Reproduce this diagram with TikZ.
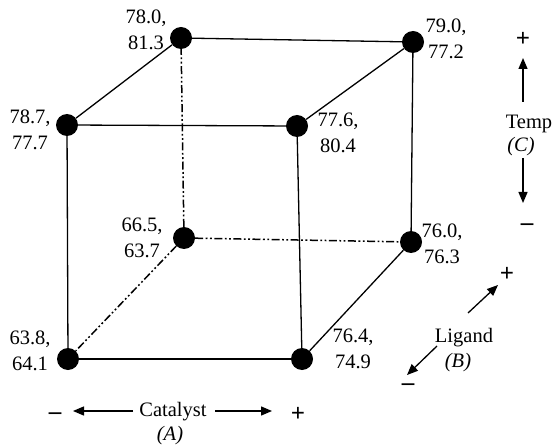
\documentclass[tikz,border=0pt]{standalone}
\usepackage{fontspec}
\setmainfont{Liberation Serif}
\usetikzlibrary{arrows.meta}
\newcommand{\twoval}[2]{\begin{tabular}[t]{@{}c@{}}#1\\#2\end{tabular}}
\begin{document}
\begin{tikzpicture}[x=1pt,y=-1pt,
  every node/.style={font=\rmfamily\fontsize{20.5}{26}\selectfont},
  vertex/.style={circle,fill=black,minimum size=22pt,inner sep=0pt},
  val/.style={anchor=base,inner sep=0pt},
  txt/.style={anchor=base,inner sep=0pt},
  sign/.style={anchor=base,inner sep=0pt,font=\rmfamily\fontsize{25}{26}\selectfont\bfseries},
  edge/.style={line width=1.3pt},
  hidden/.style={line width=1.5pt,dash pattern=on 8pt off 2.5pt on 1.8pt off 2.5pt on 1.8pt off 2.5pt},
  axarrow/.style={line width=1.3pt,-{Triangle[length=11pt,width=9pt]}}]
\useasboundingbox (0,0) rectangle (556,446);
% vertices
\node[vertex] (fbl) at (68,359) {};
\node[vertex] (fbr) at (302,359) {};
\node[vertex] (ftl) at (67,125) {};
\node[vertex] (ftr) at (297,126) {};
\node[vertex] (bbl) at (184,238) {};
\node[vertex] (bbr) at (411,242) {};
\node[vertex] (btl) at (181,38) {};
\node[vertex] (btr) at (413,42) {};
% solid edges
\draw[edge] (fbl) -- (fbr);
\draw[edge] (fbl) -- (ftl);
\draw[edge] (ftl) -- (ftr);
\draw[edge] (ftr) -- (fbr);
\draw[edge] (ftl) -- (btl);
\draw[edge] (btl) -- (btr);
\draw[edge] (btr) -- (ftr);
\draw[edge] (btr) -- (bbr);
\draw[edge] (bbr) -- (fbr);
% hidden edges
\draw[hidden] (bbl) -- (fbl);
\draw[hidden] (bbl) -- (btl);
\draw[hidden] (bbl) -- (bbr);
% values
\node[val] (vfbl) at (30,344) {\twoval{63.8,}{64.1}};
\node[val] (vfbr) at (353,342) {\twoval{76.4,}{74.9}};
\node[val] (vftl) at (30,124) {\twoval{78.7,}{77.7}};
\node[val] (vftr) at (338,127) {\twoval{77.6,}{80.4}};
\node[val] (vbbl) at (142,231) {\twoval{66.5,}{63.7}};
\node[val] (vbbr) at (442,237) {\twoval{76.0,}{76.3}};
\node[val] (vbtl) at (146,24) {\twoval{78.0,}{81.3}};
\node[val] (vbtr) at (446,33) {\twoval{79.0,}{77.2}};
% Catalyst axis
\node[txt] (cat) at (173,416) {Catalyst};
\node[txt] (catA) at (170,440) {\textit{(A)}};
\node[sign] (minA) at (55,419) {–};
\node[sign] (plusA) at (298,421) {+};
\coordinate (aLtail) at (133,411);
\coordinate (aLtip) at (73,411);
\coordinate (aRtail) at (215,411);
\coordinate (aRtip) at (272,411);
\draw[axarrow] (aLtail) -- (aLtip);
\draw[axarrow] (aRtail) -- (aRtip);
% Temp axis
\node[txt] (tmp) at (529,129) {Temp};
\node[txt] (tmpC) at (521,152) {\textit{(C)}};
\node[sign] (plusC) at (523,47) {+};
\node[sign] (minC) at (527,230) {–};
\coordinate (cUtail) at (523,102);
\coordinate (cUtip) at (523,58);
\coordinate (cDtail) at (523,158);
\coordinate (cDtip) at (523,203);
\draw[axarrow] (cUtail) -- (cUtip);
\draw[axarrow] (cDtail) -- (cDtip);
% Ligand axis
\node[txt] (lig) at (464,342) {Ligand};
\node[txt] (ligB) at (458,367) {\textit{(B)}};
\node[sign] (plusB) at (507,281) {+};
\node[sign] (minB) at (408,390) {–};
\coordinate (bUtail) at (468,313);
\coordinate (bUtip) at (498,285);
\coordinate (bDtail) at (437,346);
\coordinate (bDtip) at (407,375);
\draw[axarrow] (bUtail) -- (bUtip);
\draw[axarrow] (bDtail) -- (bDtip);
\end{tikzpicture}
\end{document}
